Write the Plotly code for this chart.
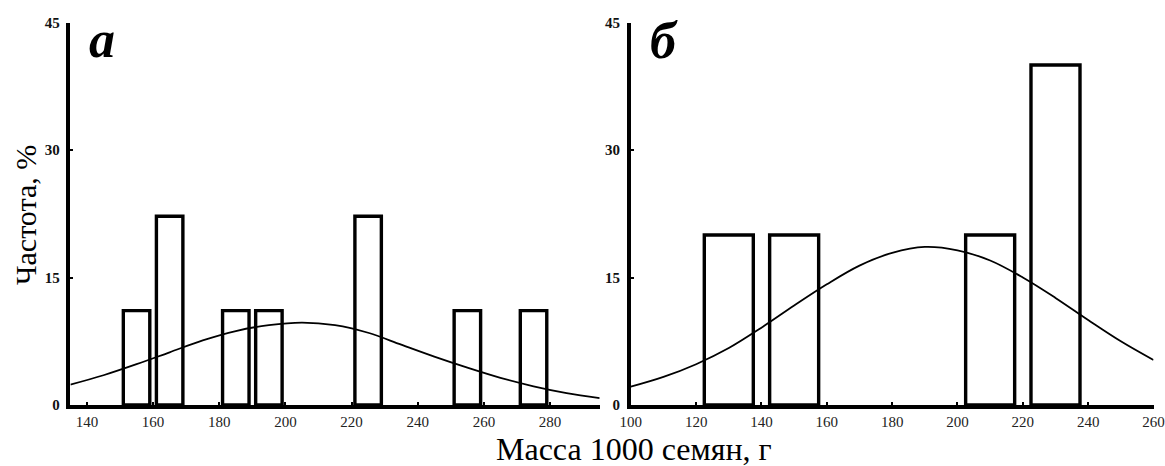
import plotly.graph_objects as go

W, H = 1165, 466

# ---- data ----
bins_a = [155, 165, 185, 195, 225, 255, 275]
freq_a = [11.1, 22.2, 11.1, 11.1, 22.2, 11.1, 11.1]
bins_b = [130, 150, 210, 230]
freq_b = [20, 20, 20, 40]

curve_a_x = [135, 145, 155, 165, 175, 185, 195, 205, 215, 225, 235, 245, 255, 265, 275, 285, 295]
curve_a_y = [2.4, 3.5, 4.8, 6.2, 7.6, 8.7, 9.4, 9.7, 9.4, 8.5, 7.1, 5.7, 4.4, 3.2, 2.2, 1.4, 0.8]
curve_b_x = [100, 110, 120, 130, 140, 150, 160, 170, 180, 190, 200, 210, 220, 230, 240, 250, 260]
curve_b_y = [2.15, 3.3, 4.8, 6.7, 9.1, 11.7, 14.2, 16.4, 17.9, 18.6, 18.2, 17.0, 15.0, 12.6, 10.0, 7.5, 5.3]

x_ticks_a = [140, 160, 180, 200, 220, 240, 260, 280]
x_ticks_b = [100, 120, 140, 160, 180, 200, 220, 240, 260]
y_ticks = [0, 15, 30, 45]

panel_labels = ["а", "б"]
y_title = "Частота, %"
x_title = "Масса 1000 семян, г"

# ---- figure ----
SERIF = "Liberation Serif"
fig = go.Figure()

fig.add_trace(go.Bar(x=bins_a, y=freq_a, width=8, xaxis="x", yaxis="y",
                     marker=dict(color="white", line=dict(color="black", width=3.4)),
                     showlegend=False, hoverinfo="skip"))
fig.add_trace(go.Scatter(x=curve_a_x, y=curve_a_y, mode="lines", xaxis="x", yaxis="y",
                         line=dict(color="black", width=1.8, shape="spline"),
                         showlegend=False, hoverinfo="skip"))
fig.add_trace(go.Bar(x=bins_b, y=freq_b, width=15, xaxis="x2", yaxis="y2",
                     marker=dict(color="white", line=dict(color="black", width=3.4)),
                     showlegend=False, hoverinfo="skip"))
fig.add_trace(go.Scatter(x=curve_b_x, y=curve_b_y, mode="lines", xaxis="x2", yaxis="y2",
                         line=dict(color="black", width=1.8, shape="spline"),
                         showlegend=False, hoverinfo="skip"))

ydom = [(H - 405) / H, (H - 22.5) / H]
xcommon = dict(showline=True, linewidth=3.5, linecolor="black", showgrid=False,
               zeroline=False, ticks="inside", ticklen=3, tickwidth=2, tickcolor="black",
               tickfont=dict(family=SERIF, size=15, color="#222"), automargin=False)
ycommon = dict(showline=True, linewidth=3.5, linecolor="black", showgrid=False,
               zeroline=False, ticks="inside", ticklen=3, tickwidth=2, tickcolor="black",
               range=[0, 45], tickvals=y_ticks, domain=ydom, ticklabelstandoff=4,
               tickfont=dict(family=SERIF, size=15, color="#111", weight="bold"),
               automargin=False)

fig.update_layout(
    width=W, height=H,
    margin=dict(l=0, r=0, t=0, b=0),
    paper_bgcolor="white", plot_bgcolor="white",
    barmode="overlay",
    xaxis=dict(domain=[70.4 / W, 599.7 / W], range=[135, 295], tickvals=x_ticks_a,
               anchor="y", **xcommon),
    yaxis=dict(anchor="x", **ycommon),
    xaxis2=dict(domain=[630.8 / W, 1153.5 / W], range=[100, 260], tickvals=x_ticks_b,
                anchor="y2", **xcommon),
    yaxis2=dict(anchor="x2", **ycommon),
)

annotations = [
    dict(text=panel_labels[0], x=87 / W, y=(H - 70) / H, xref="paper", yref="paper",
         xanchor="left", yanchor="bottom", showarrow=False,
         font=dict(family=SERIF, size=52, color="black", weight="bold", style="italic")),
    dict(text=panel_labels[1], x=648 / W, y=(H - 71) / H, xref="paper", yref="paper",
         xanchor="left", yanchor="bottom", showarrow=False,
         font=dict(family=SERIF, size=52, color="black", weight="bold", style="italic")),
    dict(text=y_title, x=25 / W, y=(H - 215) / H, xref="paper", yref="paper",
         xanchor="center", yanchor="middle", textangle=-90, showarrow=False,
         font=dict(family=SERIF, size=30, color="black")),
    dict(text=x_title, x=634 / W, y=(H - 449) / H, xref="paper", yref="paper",
         xanchor="center", yanchor="middle", showarrow=False,
         font=dict(family=SERIF, size=32, color="black")),
]
fig.update_layout(annotations=annotations)

fig.write_html("out.html", config={"displayModeBar": False},
               post_script="document.body.style.margin='0px';document.body.style.padding='0px';")
